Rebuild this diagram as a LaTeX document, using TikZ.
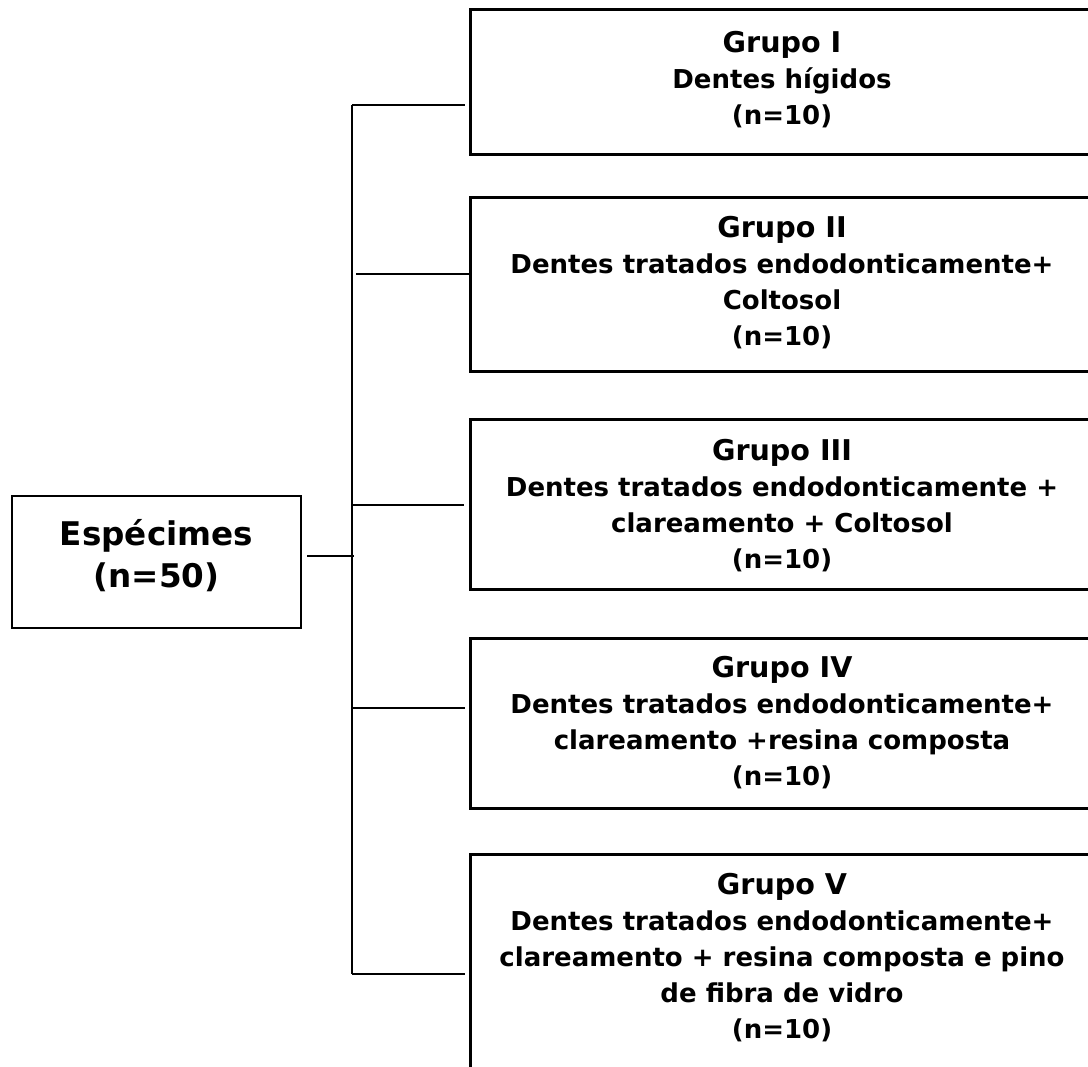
\documentclass[tikz,border=0pt]{standalone}
\usepackage{fontspec}
\setmainfont{DejaVu Sans}

\newcommand\grphead[1]{{\fontsize{28.6}{37}\selectfont Grupo #1}}

\begin{document}
\begin{tikzpicture}[
    x=1pt, y=-1pt,
    espbox/.style={draw, line width=2.7pt, minimum width=289pt,
                   minimum height=132pt},
    esptxt/.style={align=center, font=\fontsize{32.6}{42}\selectfont\bfseries},
    grpbox/.style={draw, line width=2.7pt, minimum width=640pt,
                   anchor=north west},
    grptxt/.style={align=center, font=\fontsize{26}{36}\selectfont\bfseries},
    link/.style={line width=2pt}
  ]
  \useasboundingbox (0,0) rectangle (1088,1067);
  \clip (0,0) rectangle (1088,1067);

  \node[espbox] (esp) at (156.5,562) {};
  \node[esptxt] (esplbl) at (156.5,556) {Espécimes\\(n=50)};

  % group boxes and their branches
  \foreach \ytop/\hgt/\yj/\gl/\gr [count=\i] in {8/145/105/0/4, 196/174/274/4/0,
                     418/170/505/0/5, 637/170/708/0/4, 853/247/974/0/4} {
    \node[grpbox, minimum height=\hgt pt] (box\i) at (469,\ytop) {};
    \coordinate (j\i) at (352,\yj);
    \draw[link, shorten <=\gl pt, shorten >=\gr pt] (j\i) -- (j\i -| box\i.west);
  }

  \node[grptxt] (grp1) at (782,80) {\grphead{I}\\Dentes hígidos\\(n=10)};
  \node[grptxt] (grp2) at (782,283)
    {\grphead{II}\\Dentes tratados endodonticamente+\\Coltosol\\(n=10)};
  \node[grptxt] (grp3) at (782,506)
    {\grphead{III}\\Dentes tratados endodonticamente +\\clareamento + Coltosol\\(n=10)};
  \node[grptxt] (grp4) at (782,723)
    {\grphead{IV}\\Dentes tratados endodonticamente+\\clareamento +resina composta\\(n=10)};
  \node[grptxt] (grp5) at (782,958)
    {\grphead{V}\\Dentes tratados endodonticamente+\\clareamento + resina composta e pino\\de fibra de vidro\\(n=10)};

  % trunk
  \coordinate (jE) at (354,556);
  \draw[link] (j1) -- (j5);
  \draw[link] (esp.east |- jE) ++(5,0) -- (jE);
\end{tikzpicture}
\end{document}
